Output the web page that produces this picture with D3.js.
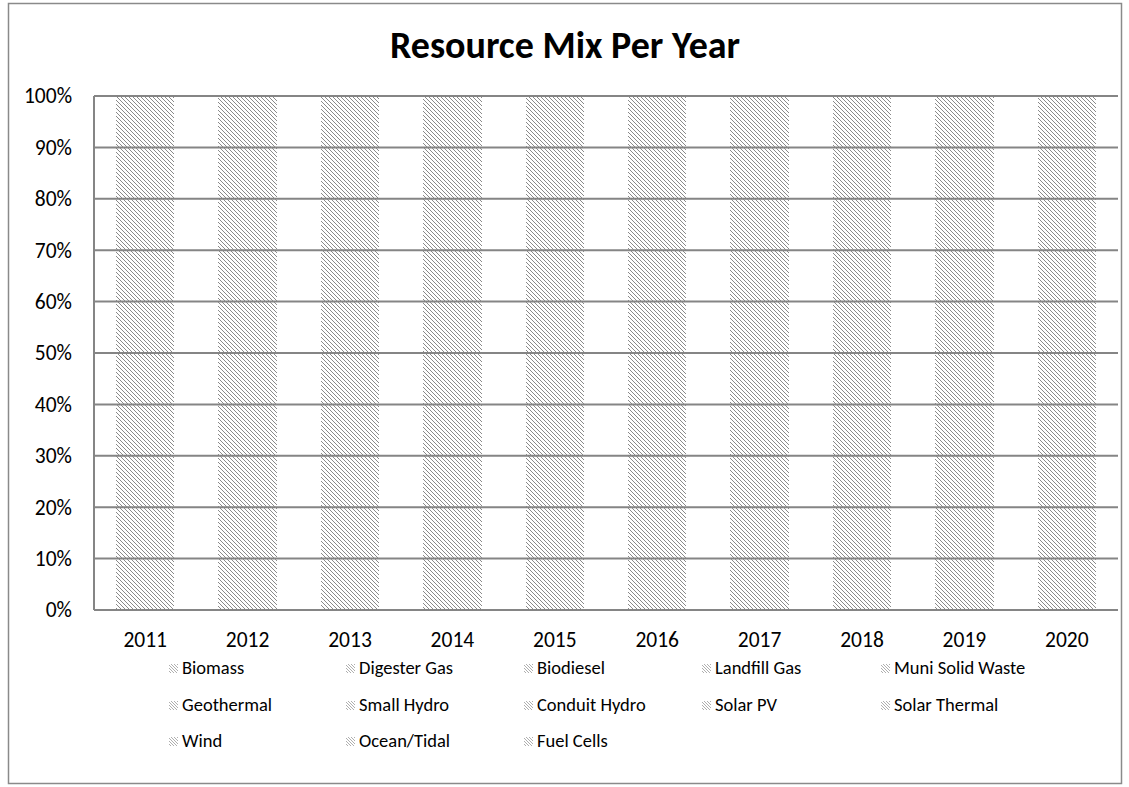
<!DOCTYPE html>
<html>
<head>
<meta charset="utf-8">
<script src="https://cdn.jsdelivr.net/npm/d3@7"></script>
<style>
	body { margin: 0; background: #fff; }
	text { font-family: Carlito, Calibri, "Open Sans", sans-serif; fill: #000; }
</style>
</head>
<body>
<svg id="chart" width="1129" height="787"></svg>
<script>
// years on the x axis
var years = ["2011", "2012", "2013", "2014", "2015", "2016", "2017", "2018", "2019", "2020"];

// resource types, in legend order
var resources = ["Biomass", "Digester Gas", "Biodiesel", "Landfill Gas", "Muni Solid Waste",
	"Geothermal", "Small Hydro", "Conduit Hydro", "Solar PV", "Solar Thermal",
	"Wind", "Ocean/Tidal", "Fuel Cells"];

// share of each resource per year (the picture only shows the full 100% stack)
var shares = [1, 1, 1, 1, 1, 1, 1, 1, 1, 1, 1, 1, 1];

var yTicks = [0, 0.1, 0.2, 0.3, 0.4, 0.5, 0.6, 0.7, 0.8, 0.9, 1];

var rows = years.map(function(y) {
	var r = { year: y };
	resources.forEach(function(name, i) { r[name] = shares[i]; });
	return r;
});

var svg = d3.select("#chart");

// hatch pattern used by every series
var defs = svg.append("defs");
var hatch = defs.append("pattern")
	.attr("id", "hatch")
	.attr("patternUnits", "userSpaceOnUse")
	.attr("width", 4)
	.attr("height", 4);
hatch.append("path")
	.attr("d", "M-1,-1 L5,5 M-1,3 L1,5 M3,-1 L5,1")
	.attr("stroke", "#8a8a8a")
	.attr("stroke-width", 1)
	.attr("shape-rendering", "crispEdges");

var hatchSmall = defs.append("pattern")
	.attr("id", "hatch-small")
	.attr("patternUnits", "userSpaceOnUse")
	.attr("width", 3)
	.attr("height", 3);
hatchSmall.append("path")
	.attr("d", "M-1,-1 L4,4 M-1,2 L1,4 M2,-1 L4,1")
	.attr("stroke", "#9a9a9a")
	.attr("stroke-width", 0.8);

// outer chart frame
svg.append("rect")
	.attr("x", 8.5)
	.attr("y", 3.5)
	.attr("width", 1113)
	.attr("height", 780)
	.attr("fill", "none")
	.attr("stroke", "#8a8a8a")
	.attr("stroke-width", 1.5);

var margin = { left: 94, right: 1118, top: 96, bottom: 610 };

var x = d3.scaleBand()
	.domain(years)
	.range([margin.left, margin.right])
	.paddingInner(0.43)
	.paddingOuter(0.215);

var y = d3.scaleLinear()
	.domain([0, 1])
	.range([margin.bottom, margin.top]);

var stack = d3.stack()
	.keys(resources)
	.offset(d3.stackOffsetExpand);

var series = stack(rows);

// bars
svg.append("g")
	.selectAll("g")
	.data(series)
	.enter()
	.append("g")
	.attr("fill", "url(#hatch)")
	.selectAll("rect")
	.data(function(d) { return d; })
	.enter()
	.append("rect")
	.attr("x", function(d) { return x(d.data.year); })
	.attr("y", function(d) { return y(d[1]); })
	.attr("width", x.bandwidth())
	.attr("height", function(d) { return y(d[0]) - y(d[1]); })
	.attr("shape-rendering", "crispEdges");

// gridlines over the hatch
svg.append("g")
	.selectAll("line")
	.data(yTicks)
	.enter()
	.append("line")
	.attr("x1", margin.left)
	.attr("x2", margin.right)
	.attr("y1", function(d) { return y(d); })
	.attr("y2", function(d) { return y(d); })
	.attr("stroke", "#858585")
	.attr("stroke-width", 2);

svg.append("line")
	.attr("x1", margin.left)
	.attr("x2", margin.left)
	.attr("y1", margin.top)
	.attr("y2", margin.bottom)
	.attr("stroke", "#858585")
	.attr("stroke-width", 2);

// y axis labels
var yAxis = d3.axisLeft(y)
	.tickValues(yTicks)
	.tickFormat(d3.format(".0%"))
	.tickSize(0)
	.tickPadding(22);

svg.append("g")
	.attr("transform", "translate(" + margin.left + ",0)")
	.call(yAxis)
	.call(function(g) { g.select(".domain").remove(); })
	.selectAll("text")
	.style("font-family", "Carlito, Calibri, 'Open Sans', sans-serif")
	.style("font-size", "21.5px")
	.attr("fill", "#000");

// x axis labels
var xAxis = d3.axisBottom(x)
	.tickSize(0)
	.tickPadding(22);

svg.append("g")
	.attr("transform", "translate(0," + margin.bottom + ")")
	.call(xAxis)
	.call(function(g) { g.select(".domain").remove(); })
	.selectAll("text")
	.style("font-family", "Carlito, Calibri, 'Open Sans', sans-serif")
	.style("font-size", "21.5px")
	.attr("fill", "#000");

// title
svg.append("text")
	.attr("x", 565)
	.attr("y", 58)
	.attr("text-anchor", "middle")
	.style("font-size", "38px")
	.style("font-weight", "bold")
	.text("Resource Mix Per Year");

// legend, five per row
var legendX = [169, 346, 524, 702, 881];
var legendY = [668, 705, 741];

var legend = svg.append("g")
	.selectAll("g")
	.data(resources)
	.enter()
	.append("g")
	.attr("transform", function(d, i) {
		return "translate(" + legendX[i % 5] + "," + legendY[Math.floor(i / 5)] + ")";
	});

legend.append("rect")
	.attr("x", 0)
	.attr("y", -4)
	.attr("width", 9)
	.attr("height", 9)
	.attr("fill", "url(#hatch-small)")
	.attr("shape-rendering", "crispEdges");

legend.append("text")
	.attr("x", 13)
	.attr("y", 0)
	.attr("dy", "0.35em")
	.style("font-size", "18.5px")
	.text(function(d) { return d; });
</script>
</body>
</html>
